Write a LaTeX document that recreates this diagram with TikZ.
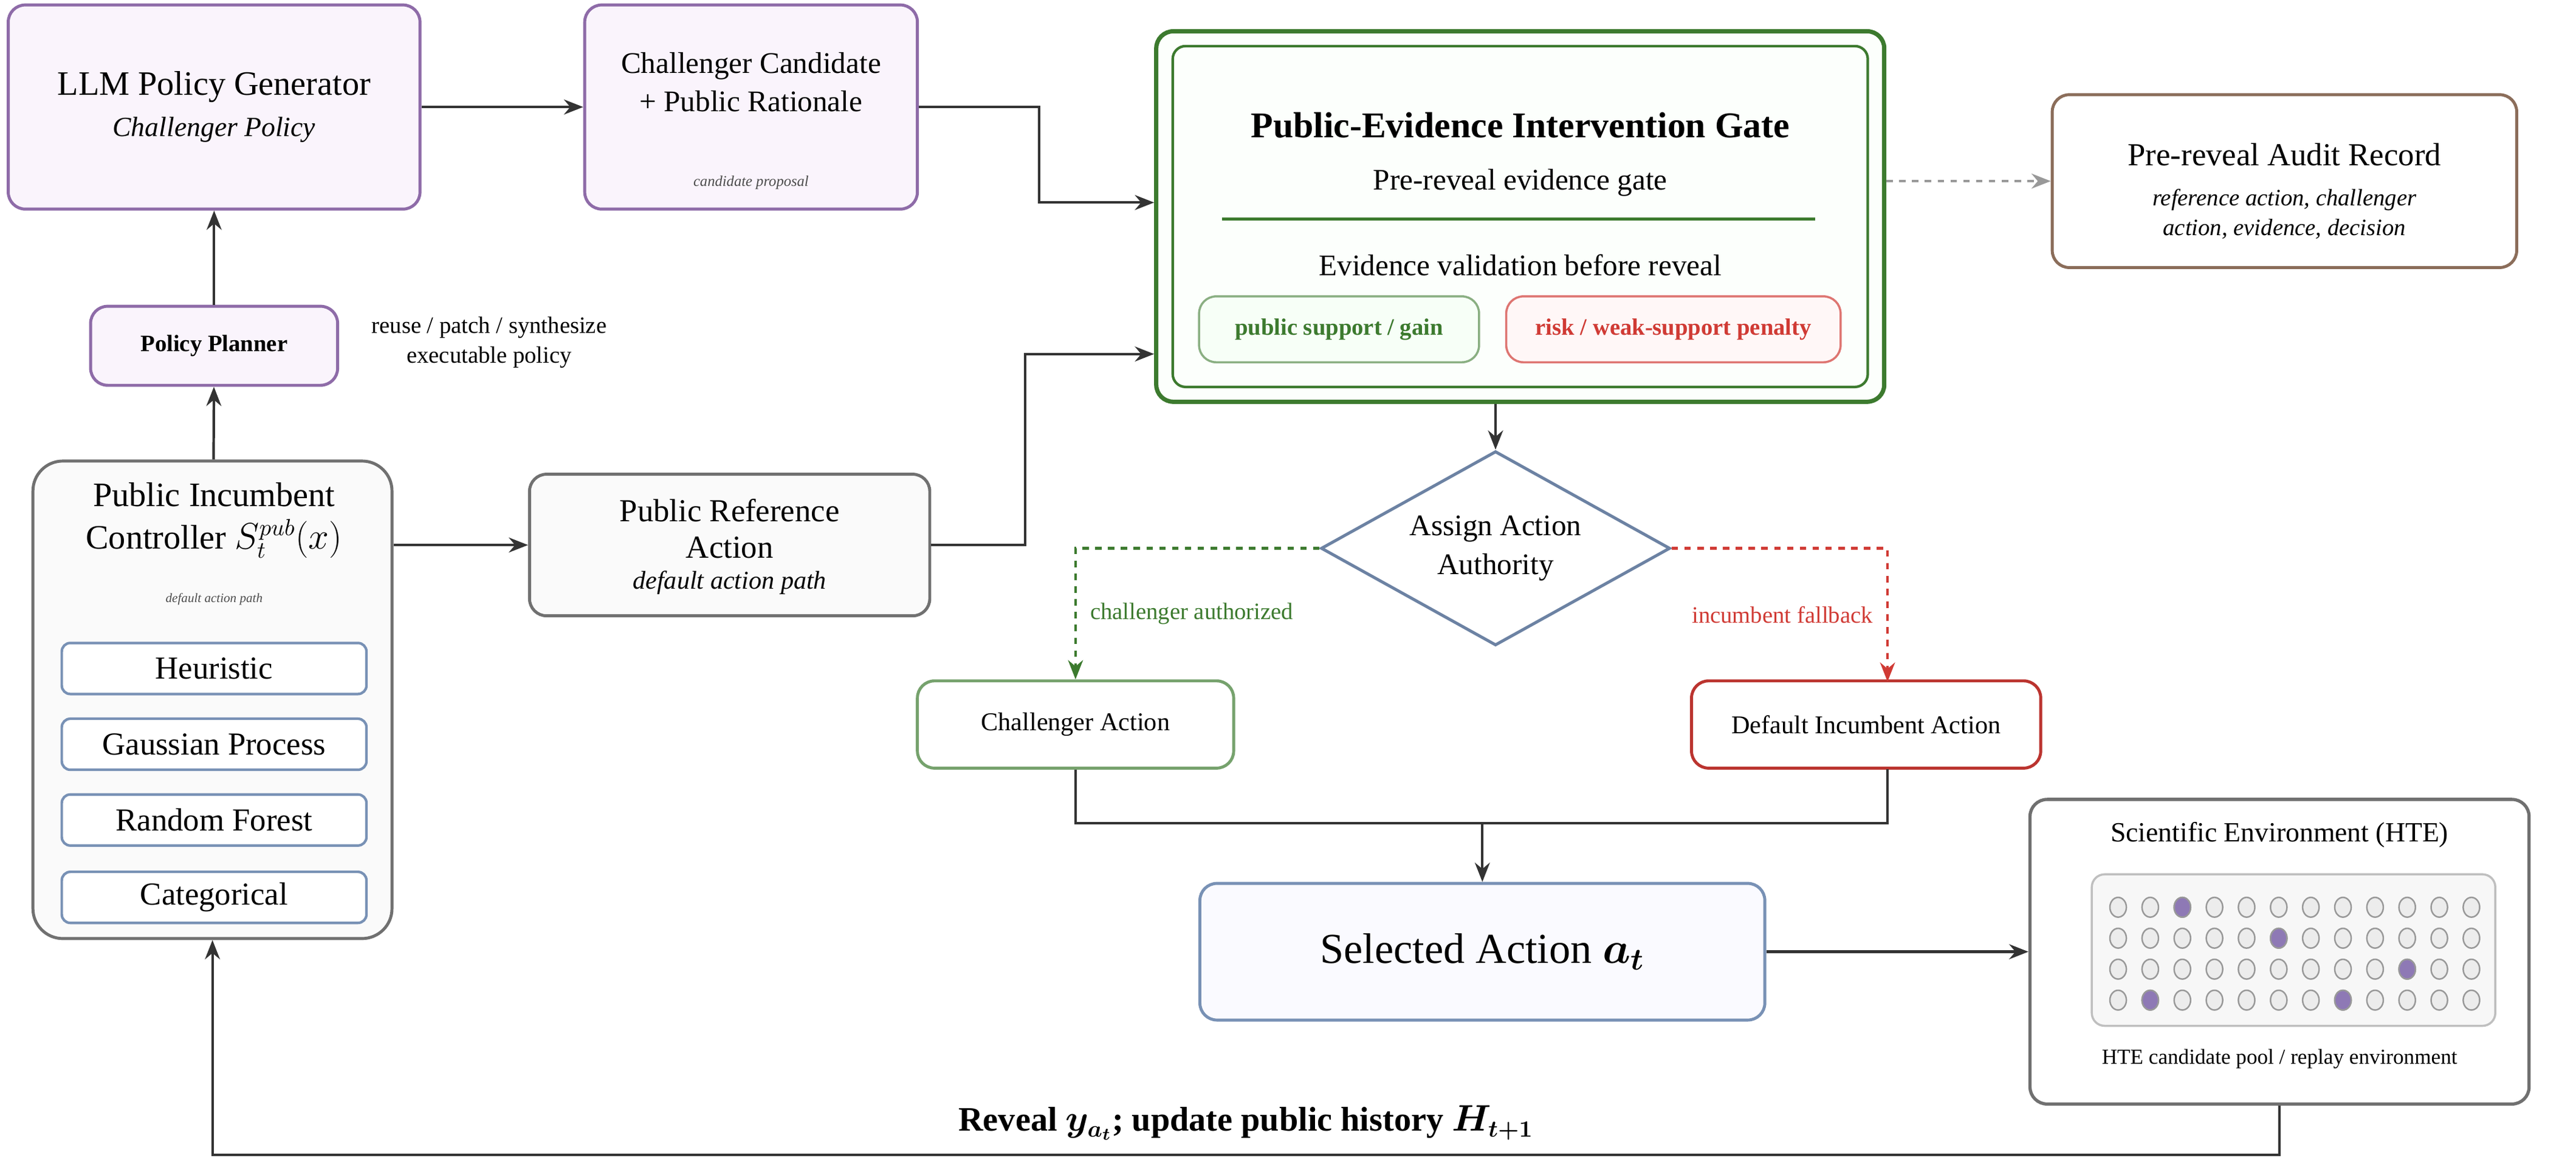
\documentclass[tikz,border=0pt]{standalone}
\usepackage{fontspec}
\usepackage{bm}
\setmainfont{Liberation Serif}
\usetikzlibrary{positioning,shapes.geometric,arrows.meta}
\definecolor{purp}{HTML}{8E6BA8}
\definecolor{purpfill}{HTML}{FAF4FC}
\definecolor{gr}{HTML}{3C7A2E}
\definecolor{rd}{HTML}{D03A34}
\definecolor{bl}{HTML}{7891B5}
\definecolor{gy}{HTML}{707070}
\definecolor{brn}{HTML}{8B6D5A}
\definecolor{dot}{HTML}{8E79B5}
\newcommand{\fsz}[1]{\fontsize{#1}{\numexpr#1*5/4\relax}\selectfont}
\tikzset{
  box/.style={draw=#1, line width=1.4pt, rounded corners=8pt, align=center, inner sep=2pt},
  conn/.style={line width=1.2pt, draw=black!80, -{Stealth[length=9pt,width=7pt]}},
  line/.style={line width=1.2pt, draw=black!80},
  subbox/.style={draw=bl, line width=1.2pt, rounded corners=4pt, fill=white, minimum width=185*0.0271cm, minimum height=31*0.0271cm, font=\fsz{15}},
  well/.style={draw=gray!80, line width=0.7pt, fill=gray!15, ellipse, minimum width=10*0.0271cm, minimum height=12*0.0271cm, inner sep=0pt},
}
\begin{document}
\begin{tikzpicture}[x=0.0271cm, y=-0.0271cm]
\useasboundingbox (0,0) rectangle (1564,706.6);

% top row
\node[box=purp, fill=purpfill, minimum width=250*0.0271cm, minimum height=124*0.0271cm] (llm) at (130,65)
  {{\fsz{16}LLM Policy Generator}\\[6pt]{\fsz{13}\itshape Challenger Policy}};
\node[box=purp, fill=purpfill, minimum width=202*0.0271cm, minimum height=124*0.0271cm] (cand) at (456,65) {};
\node[align=center, font=\fsz{14}] at (456,50) {Challenger Candidate\\+ Public Rationale};
\node[font=\fsz{7}\itshape, text=black!70] at (456,111) {candidate proposal};

% gate
\node[box=gr, line width=2pt, fill=green!1, minimum width=442*0.0271cm, minimum height=225*0.0271cm] (gate) at (923,131.5) {};
\draw[gr, line width=1.2pt, rounded corners=6pt] (712,28) rectangle (1134,235);
\node[font=\fsz{17}\bfseries] at (923,76) {Public-Evidence Intervention Gate};
\node[font=\fsz{14}] at (923,111) {Pre-reveal evidence gate};
\draw[gr, line width=1.2pt] (742,133) -- (1102,133);
\node[font=\fsz{14}] at (923,161) {Evidence validation before reveal};
\node[box=gr!60, line width=1pt, fill=green!3, minimum width=170*0.0271cm, minimum height=40*0.0271cm, font=\fsz{11}\bfseries, text=gr] (sup) at (813,200) {public support / gain};
\node[box=rd!70, line width=1pt, fill=red!3, minimum width=203*0.0271cm, minimum height=40*0.0271cm, font=\fsz{11}\bfseries, text=rd] (risk) at (1016,200) {risk / weak-support penalty};

\node[box=brn, minimum width=282*0.0271cm, minimum height=105*0.0271cm] (audit) at (1387,110) {};
\node[font=\fsz{15}] at (1387,94) {Pre-reveal Audit Record};
\node[font=\fsz{11}\itshape, align=center] at (1387,130) {reference action, challenger\\action, evidence, decision};

% left column
\node[box=purp, fill=purpfill, minimum width=150*0.0271cm, minimum height=48*0.0271cm, font=\fsz{11}\bfseries] (plan) at (130,210) {Policy Planner};
\node[font=\fsz{11}, align=center] (planlbl) at (297,208) {reuse / patch / synthesize\\executable policy};

\node[box=gy, fill=gray!4, rounded corners=14pt, minimum width=218*0.0271cm, minimum height=290*0.0271cm] (inc) at (129,425) {};
\node[font=\fsz{16}, align=center] at (130,316) {Public Incumbent\\Controller $S_t^{pub}(x)$};
\node[font=\fsz{6}\itshape, text=black!70] at (130,364) {default action path};
\node[subbox] (heur) at (130,406) {Heuristic};
\node[subbox] (gp) at (130,452) {Gaussian Process};
\node[subbox] (rf) at (130,498) {Random Forest};
\node[subbox] (cat) at (130,545) {Categorical};

\node[box=gy, fill=gray!4, minimum width=243*0.0271cm, minimum height=86*0.0271cm] (ref) at (443,331) {};
\node[font=\fsz{15}, align=center] at (443,321) {Public Reference\\[-2pt]Action};
\node[font=\fsz{12}\itshape] at (443,354) {default action path};

% decision
\node[draw=bl!90!black, line width=1.4pt, diamond, aspect=1.8, minimum width=212*0.0271cm, minimum height=118*0.0271cm, inner sep=0pt, align=center, font=\fsz{14}] (dec) at (908,333) {Assign Action\\Authority};
\node[box=gr!70, minimum width=192*0.0271cm, minimum height=53*0.0271cm, font=\fsz{12}] (chal) at (653,440) {Challenger Action};
\node[box=rd!90!black, minimum width=212*0.0271cm, minimum height=53*0.0271cm, font=\fsz{12}] (dflt) at (1133,440) {Default Incumbent Action};
\node[box=bl, fill=blue!2, minimum width=343*0.0271cm, minimum height=83*0.0271cm, font=\fsz{20}] (sel) at (900,578) {Selected Action $\bm{a_t}$};

% environment
\node[box=gy, line width=1.5pt, minimum width=303*0.0271cm, minimum height=185*0.0271cm] (env) at (1384,578) {};
\node[font=\fsz{13}] at (1384,507) {Scientific Environment (HTE)};
\draw[gray!50, fill=gray!6, line width=1pt, rounded corners=6pt] (1270,531) rectangle (1515,623);
\foreach \r in {1,...,4}
  \foreach \c in {1,...,12}
    \node[well] (w\r-\c) at (1286+19.5*\c-19.5,551+18.8*\r-18.8) {};
\foreach \r/\c in {1/3,2/6,3/10,4/2,4/8}
  \node[well, fill=dot] at (w\r-\c) {};
\node[font=\fsz{10}] at (1384,643) {HTE candidate pool / replay environment};

% connectors
\draw[conn] (llm) -- (cand);
\draw[conn] (cand.east) -- ++(73,0) |- (gate.west |- 0,123);
\draw[conn] (plan) -- (llm);
\draw[conn] (inc) -- (plan);
\draw[conn] (inc.east |- ref) -- (ref);
\draw[conn] (ref.east) -- ++(57,0) |- (gate.west |- 0,215);
\draw[conn] (dec |- gate.south) -- (dec);
\draw[line width=1.2pt, gray!80, dashed, -{Stealth[length=9pt,width=7pt]}] (gate.east |- 0,110) -- (audit.west |- 0,110);
\draw[line width=1.2pt, gr, dashed, -{Stealth[length=9pt,width=7pt]}] (dec.west) -| (chal.north) node[pos=0.75, right=3pt, font=\fsz{11}] {challenger authorized};
\draw[line width=1.2pt, rd, dashed, -{Stealth[length=9pt,width=7pt]}] (dec.east) -| (1146,414) node[pos=0.75, left=3pt, font=\fsz{11}] {incumbent fallback};
\draw[line] (chal.south) |- (1146,500) -- (1146,467);
\draw[conn] (900,500) -- (sel);
\draw[conn] (sel) -- (env);
\draw[conn] (env.south) -- ++(0,30) -| (inc.south) node[pos=0.25, above=3pt, font=\fsz{16}\bfseries] {Reveal $\bm{y_{a_t}}$; update public history $\bm{H_{t+1}}$};
\end{tikzpicture}
\end{document}
